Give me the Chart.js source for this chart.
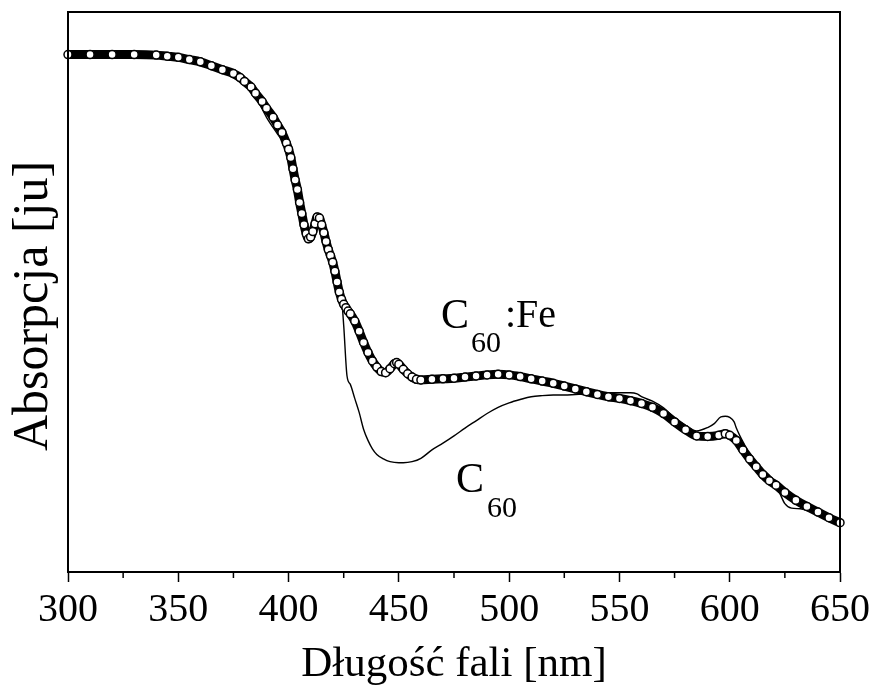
<!DOCTYPE html>
<html>
<head>
<meta charset="utf-8">
<script src="https://cdn.jsdelivr.net/npm/chart.js@4.4.1/dist/chart.umd.min.js"></script>
<style>
  html, body { margin: 0; padding: 0; background: #fff; }
  #wrap { width: 874px; height: 698px; }
</style>
</head>
<body>
<div id="wrap"><canvas id="absorption"></canvas></div>
<script>
// C60:Fe (circles)
const feWavelength = [300, 310, 320, 330, 340, 345, 350, 355, 360, 365, 370, 375, 378, 380, 383, 385, 388, 390, 393, 395,
    397, 399, 400, 401, 402, 403, 404, 405, 406, 407, 408, 409, 410, 411, 412, 413, 414, 415, 416, 417,
    418, 419, 420, 421, 422, 423, 424, 425, 426, 427, 428, 430, 432, 434, 436, 438, 440, 442, 444, 446,
    448, 449, 450, 452, 454, 456, 458, 460, 465, 470, 475, 480, 485, 490, 495, 500, 505, 510, 515, 520,
    525, 530, 535, 540, 545, 550, 555, 560, 565, 570, 575, 580, 585, 590, 595, 598, 600, 603, 606, 609,
    612, 615, 618, 621, 625, 630, 635, 640, 645, 650];
const feAbsorbance = [0.924, 0.924, 0.924, 0.924, 0.923, 0.921, 0.919, 0.915, 0.911, 0.904, 0.897, 0.890, 0.883, 0.876, 0.866, 0.855, 0.840, 0.828, 0.812, 0.798,
    0.785, 0.766, 0.755, 0.740, 0.720, 0.700, 0.683, 0.660, 0.640, 0.620, 0.604, 0.595, 0.598, 0.608, 0.622, 0.634, 0.632, 0.620, 0.606, 0.590,
    0.576, 0.565, 0.553, 0.537, 0.518, 0.500, 0.487, 0.478, 0.472, 0.466, 0.461, 0.448, 0.430, 0.410, 0.392, 0.377, 0.366, 0.358, 0.356, 0.363,
    0.372, 0.374, 0.371, 0.362, 0.354, 0.348, 0.344, 0.343, 0.344, 0.345, 0.346, 0.348, 0.350, 0.352, 0.353, 0.352, 0.349, 0.345, 0.341, 0.337,
    0.332, 0.327, 0.322, 0.317, 0.313, 0.310, 0.306, 0.301, 0.294, 0.283, 0.268, 0.254, 0.243, 0.242, 0.244, 0.247, 0.244, 0.235, 0.218, 0.202,
    0.188, 0.174, 0.163, 0.155, 0.142, 0.128, 0.117, 0.107, 0.097, 0.088];

// C60 (thin line)
const c60Wavelength = [300, 320, 340, 350, 360, 370, 380, 385, 390, 395, 400, 405, 408, 410, 413, 416, 420, 423, 424, 425,
    426.5, 428, 430, 432, 434, 436, 438, 440, 443, 446, 450, 452, 456, 460, 465, 470, 475, 480, 485, 490,
    495, 500, 505, 510, 515, 520, 525, 530, 535, 540, 545, 550, 555, 558, 560, 565, 570, 575, 580, 585,
    590, 593, 596, 598, 600, 602, 603, 605, 607, 610, 612, 616, 619, 621, 623, 625, 628, 632, 636, 640,
    645, 650];
const c60Absorbance = [0.924, 0.924, 0.923, 0.919, 0.911, 0.897, 0.874, 0.850, 0.812, 0.782, 0.752, 0.660, 0.604, 0.598, 0.632, 0.606, 0.553, 0.505, 0.490, 0.440,
    0.350, 0.335, 0.310, 0.285, 0.255, 0.235, 0.220, 0.210, 0.202, 0.197, 0.195, 0.195, 0.197, 0.203, 0.218, 0.230, 0.243, 0.257, 0.270, 0.283,
    0.294, 0.302, 0.308, 0.313, 0.315, 0.316, 0.316, 0.317, 0.318, 0.319, 0.320, 0.320, 0.320, 0.318, 0.313, 0.305, 0.293, 0.275, 0.262, 0.252,
    0.258, 0.265, 0.277, 0.278, 0.276, 0.268, 0.257, 0.240, 0.225, 0.200, 0.192, 0.180, 0.168, 0.155, 0.138, 0.122, 0.114, 0.113, 0.109, 0.104,
    0.096, 0.088];

const xTicks = [300, 350, 400, 450, 500, 550, 600, 650];
const xMinorTicks = [325, 375, 425, 475, 525, 575, 625];

const serif = '"Liberation Serif", "DejaVu Serif", serif';

const toPoints = (xs, ys) => xs.map((x, i) => ({ x: x, y: ys[i] }));

// frame, minor ticks and the in-plot labels
const framePlugin = {
    id: 'frame',
    afterDraw(chart) {
        const { ctx, chartArea } = chart;
        const xs = chart.scales.x;
        ctx.save();
        ctx.strokeStyle = '#000';
        ctx.lineWidth = 2;
        ctx.strokeRect(chartArea.left, chartArea.top, chartArea.right - chartArea.left, chartArea.bottom - chartArea.top);

        ctx.lineWidth = 1.5;
        xMinorTicks.forEach(v => {
            const px = xs.getPixelForValue(v);
            ctx.beginPath();
            ctx.moveTo(px, chartArea.bottom);
            ctx.lineTo(px, chartArea.bottom + 6);
            ctx.stroke();
        });

        ctx.fillStyle = '#000';
        ctx.textBaseline = 'alphabetic';
        ctx.textAlign = 'left';

        ctx.font = '42px ' + serif;
        ctx.fillText('C', 441, 328);
        ctx.font = '30px ' + serif;
        ctx.fillText('60', 471, 352);
        ctx.font = '40px ' + serif;
        ctx.fillText(':Fe', 505, 327);

        ctx.font = '42px ' + serif;
        ctx.fillText('C', 456, 492);
        ctx.font = '30px ' + serif;
        ctx.fillText('60', 487, 517);

        // y axis title
        ctx.translate(47, (chartArea.top + chartArea.bottom) / 2 + 14);
        ctx.rotate(-Math.PI / 2);
        ctx.textAlign = 'center';
        ctx.font = '50px ' + serif;
        ctx.fillText('Absorpcja [ju]', 0, 0);
        ctx.restore();
    }
};

const absorptionChart = new Chart(document.getElementById('absorption').getContext('2d'), {
    type: 'line',
    data: {
        datasets: [
            {
                label: 'C60:Fe',
                data: toPoints(feWavelength, feAbsorbance),
                borderColor: '#000',
                borderWidth: 9,
                cubicInterpolationMode: 'monotone',
                pointRadius: 4,
                pointBorderWidth: 1.5,
                pointBorderColor: '#000',
                pointBackgroundColor: '#fff',
                clip: false,
                order: 0
            },
            {
                label: 'C60',
                data: toPoints(c60Wavelength, c60Absorbance),
                borderColor: '#000',
                borderWidth: 1.4,
                cubicInterpolationMode: 'monotone',
                pointRadius: 0,
                order: 1
            }
        ]
    },
    options: {
        responsive: true,
        maintainAspectRatio: false,
        animation: false,
        layout: {
            padding: { top: 12, right: 33, bottom: 0, left: 0 }
        },
        plugins: {
            legend: { display: false },
            tooltip: { enabled: false }
        },
        scales: {
            x: {
                type: 'linear',
                min: 300,
                max: 650,
                afterFit: s => { s.height = 126; },
                afterBuildTicks: s => { s.ticks = xTicks.map(v => ({ value: v })); },
                grid: {
                    display: true,
                    drawOnChartArea: false,
                    drawTicks: true,
                    tickLength: 10,
                    tickColor: '#000',
                    tickWidth: 1.5
                },
                border: { display: true, color: '#000', width: 2 },
                ticks: {
                    color: '#000',
                    padding: 4,
                    maxRotation: 0,
                    font: { family: serif, size: 40 }
                },
                title: {
                    display: true,
                    text: 'Długość fali [nm]',
                    color: '#000',
                    font: { family: serif, size: 43 },
                    padding: { top: 0, bottom: 7 }
                }
            },
            y: {
                min: 0,
                max: 1,
                afterFit: s => { s.width = 68; },
                grid: { display: false },
                border: { display: true, color: '#000', width: 2 },
                ticks: { display: false }
            }
        }
    },
    plugins: [framePlugin]
});
</script>
</body>
</html>
